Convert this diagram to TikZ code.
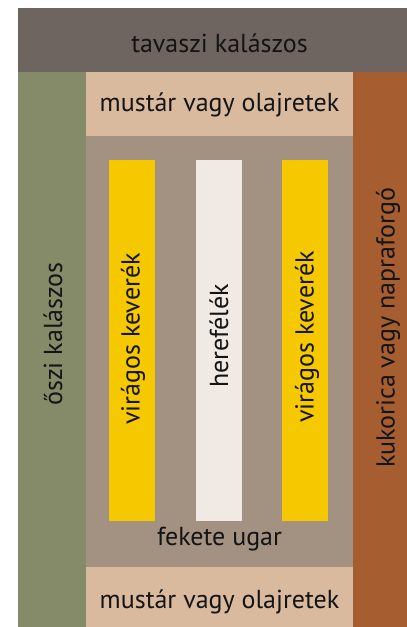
\documentclass[tikz,border=0pt]{standalone}
\usepackage{fontspec}
\setmainfont{PT Sans}
\definecolor{topc}{HTML}{6F6560}
\definecolor{greenc}{HTML}{858B69}
\definecolor{orangec}{HTML}{A65E30}
\definecolor{mustc}{HTML}{D9BA9E}
\definecolor{grayc}{HTML}{A39181}
\definecolor{yellc}{HTML}{F5C800}
\definecolor{whitec}{HTML}{F0E9E4}
\tikzset{
  lbl/.style={font=\fontsize{26}{28}\selectfont, text=black!92, inner sep=0pt},
  vlbl/.style={lbl, rotate=90},
}
\begin{document}
\begin{tikzpicture}[x=1pt,y=-1pt]
\useasboundingbox (0,0) rectangle (407,627);
\fill[white] (0,0) rectangle (407,627);
\fill[topc] (18,8) rectangle (407,72);
\fill[greenc] (18,72) rectangle (86,627);
\fill[orangec] (353,72) rectangle (407,627);
\fill[mustc] (86,72) rectangle (353,136);
\fill[grayc] (86,136) rectangle (353,567);
\fill[mustc] (86,567) rectangle (353,627);
\fill[yellc] (109,160) rectangle (155,521);
\fill[whitec] (196,160) rectangle (242,521);
\fill[yellc] (282,160) rectangle (328,521);
\node[lbl] (tav) at (219.5,43) {tavaszi kalászos};
\node[lbl] (must1) at (219.5,105) {mustár vagy olajretek};
\node[lbl] (fek) at (219.5,539) {fekete ugar};
\node[lbl] (must2) at (219.5,602) {mustár vagy olajretek};
\node[vlbl] (osz) at (53,334) {őszi kalászos};
\node[vlbl] (vir1) at (133,339) {virágos keverék};
\node[vlbl] (here) at (219,336) {herefélék};
\node[vlbl] (vir2) at (307,337) {virágos keverék};
\node[vlbl] (kuk) at (388,328) {kukorica vagy napraforgó};
\end{tikzpicture}
\end{document}
